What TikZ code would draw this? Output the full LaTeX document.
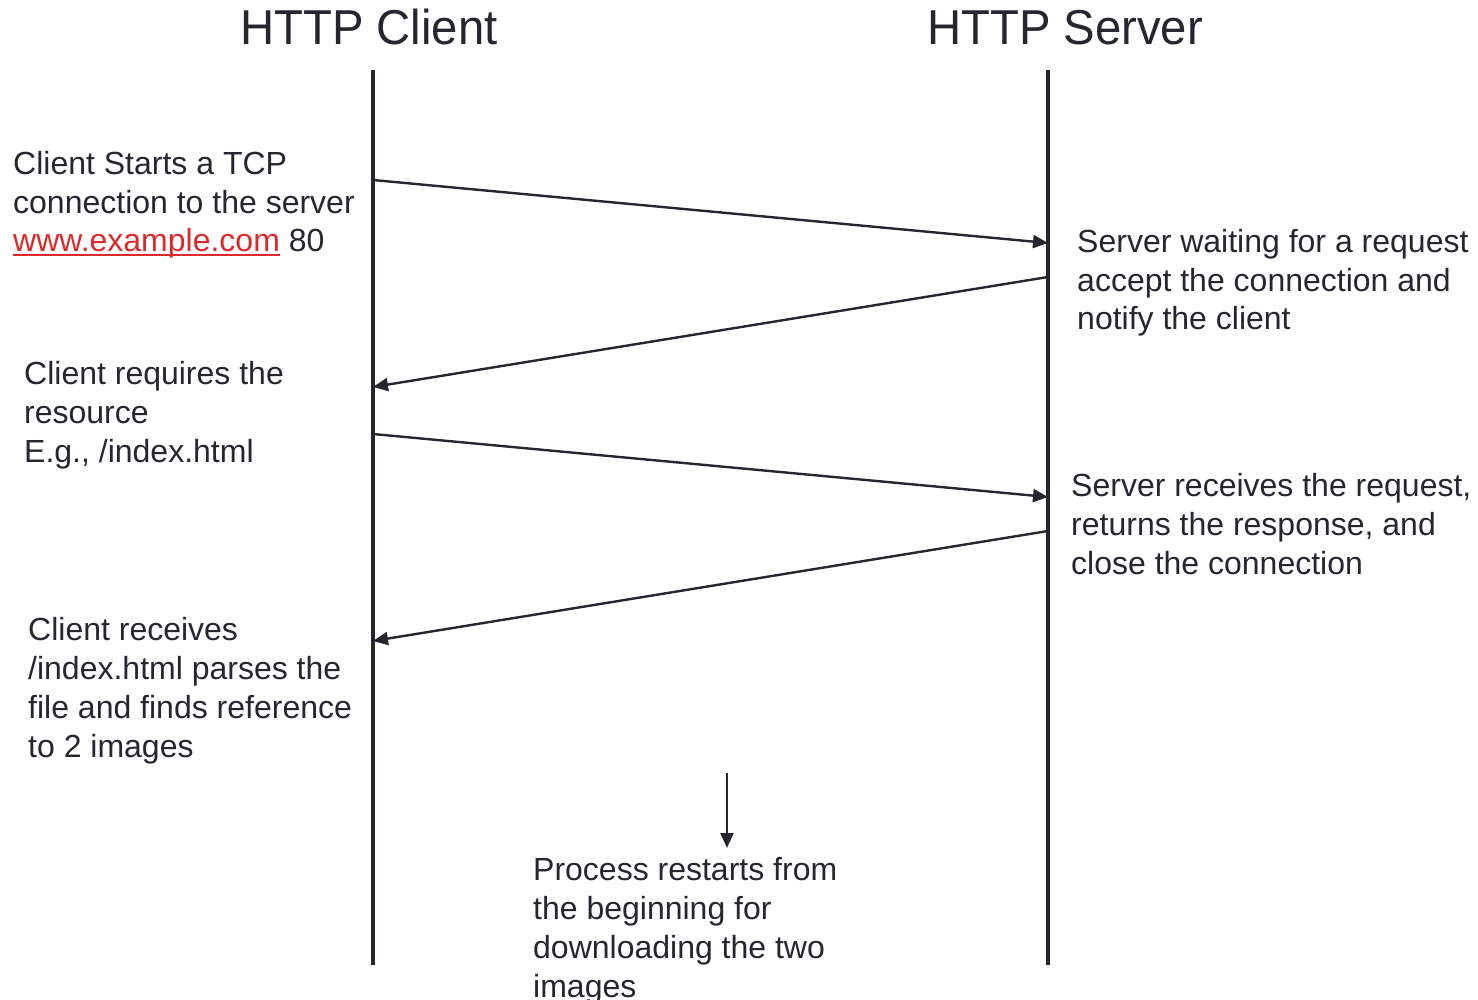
\documentclass[tikz,border=0pt]{standalone}
\usepackage{fontspec}
\setmainfont{Liberation Sans}
\usetikzlibrary{arrows.meta}
\definecolor{ink}{HTML}{24272E}
\definecolor{linkred}{HTML}{DC2A2A}
% red hyperlink-style text with a solid underline
\newcommand\weblink[1]{\textcolor{linkred}{\setbox0\hbox{#1}\rlap{\rule[-4pt]{\wd0}{2pt}}\box0}}
\begin{document}
\begin{tikzpicture}[x=1pt,y=-1pt,
  lifeline/.style={draw=ink,line width=4pt},
  msg/.style={draw=ink,line width=2.4pt,-{Triangle[length=15pt,width=13pt]}},
  note/.style={anchor=base west,inner sep=0pt,align=left,text=ink,
    font=\fontsize{32}{38.7}\selectfont},
  title/.style={anchor=base,inner sep=0pt,text=ink,
    font=\fontsize{49}{56}\selectfont}]
\useasboundingbox (0,0) rectangle (1478,1000);

% participants
\node[title,xscale=0.965] (tc) at (369,45) {HTTP Client};
\node[title,xscale=0.965] (ts) at (1065,45) {HTTP Server};

% lifelines
\coordinate (c0) at (373,70);  \coordinate (c1) at (373,965);
\coordinate (s0) at (1048,70); \coordinate (s1) at (1048,965);
\draw[lifeline] (c0) -- (c1);
\draw[lifeline] (s0) -- (s1);

% message end points on the lifelines
\coordinate (m1a) at (373,180);  \coordinate (m1b) at (1048,243);
\coordinate (m2a) at (1048,277); \coordinate (m2b) at (373,387);
\coordinate (m3a) at (373,434);  \coordinate (m3b) at (1048,497);
\coordinate (m4a) at (1048,531); \coordinate (m4b) at (373,641);
\coordinate (r0) at (727,773);   \coordinate (r1) at (727,848);

\draw[msg] (m1a) -- (m1b);
\draw[msg] (m2a) -- (m2b);
\draw[msg] (m3a) -- (m3b);
\draw[msg] (m4a) -- (m4b);
\draw[msg] (r0) -- (r1);

% annotations (each placed by the baseline of its last line)
\node[note] (n1) at (13,252) {Client Starts a TCP\\connection to the server\\
  \weblink{www.example.com} 80};
\node[note] (n2) at (24,462) {Client requires the\\resource\\E.g., /index.html};
\node[note] (n3) at (28,757) {Client receives\\/index.html parses the\\file and finds reference\\to 2 images};
\node[note] (n4) at (1077,330) {Server waiting for a request\\accept the connection and\\notify the client};
\node[note] (n5) at (1071,574) {Server receives the request,\\returns the response, and\\close the connection};
\node[note] (n6) at (533,997) {Process restarts from\\the beginning for\\downloading the two\\images};
\end{tikzpicture}
\end{document}
